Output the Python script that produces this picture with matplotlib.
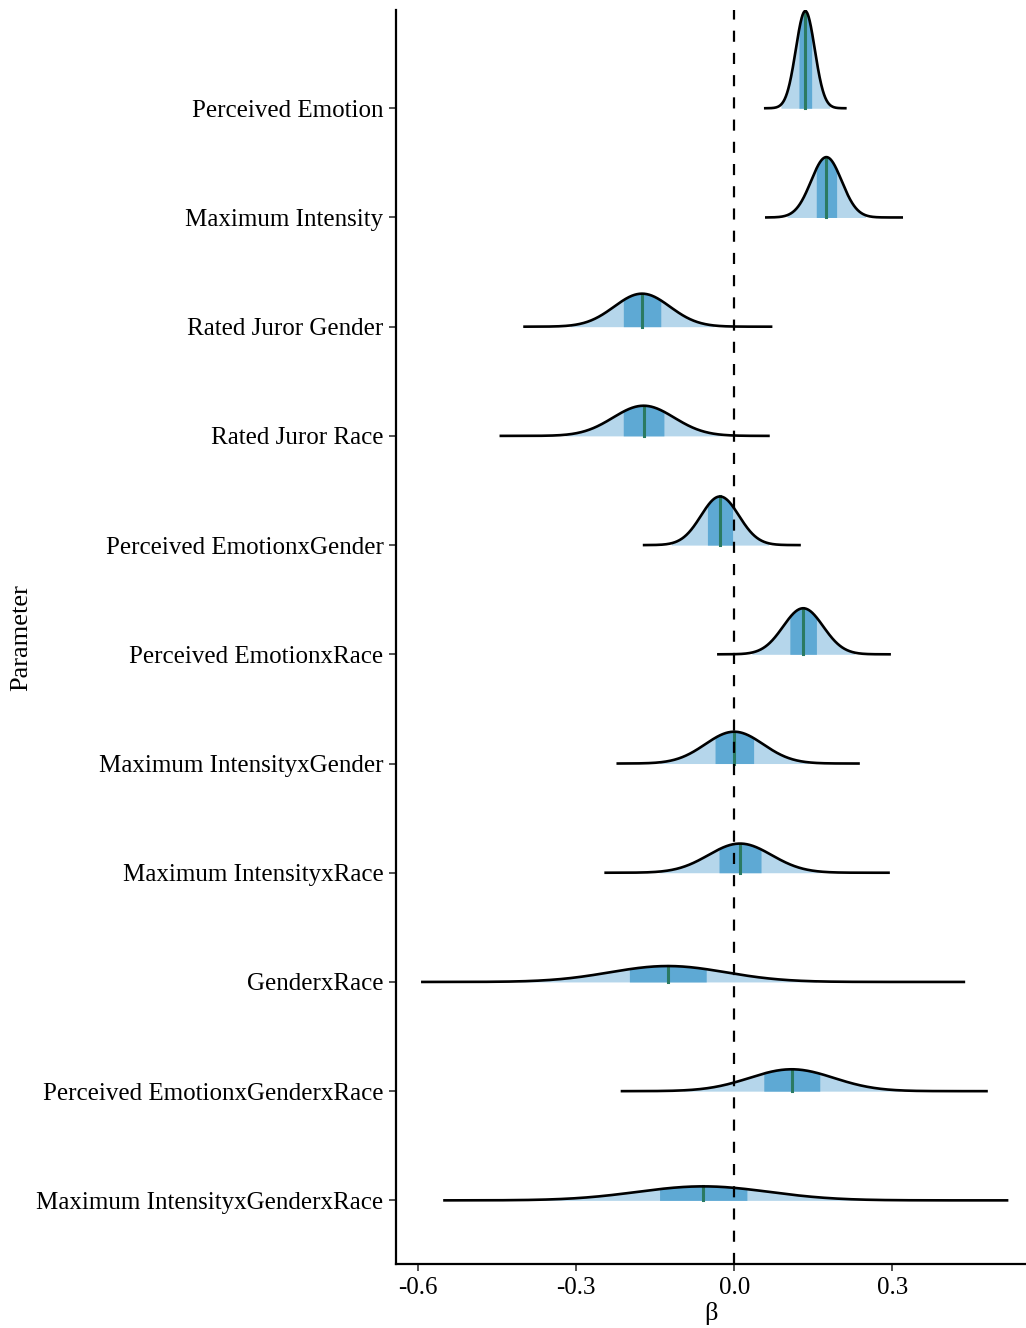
import numpy as np
import matplotlib.pyplot as plt

plt.rcParams['font.family'] = ['Liberation Serif', 'DejaVu Serif']

# posterior summaries (median, sd, sample min / max)
params = ["Perceived Emotion", "Maximum Intensity", "Rated Juror Gender",
          "Rated Juror Race", "Perceived EmotionxGender", "Perceived EmotionxRace",
          "Maximum IntensityxGender", "Maximum IntensityxRace", "GenderxRace",
          "Perceived EmotionxGenderxRace", "Maximum IntensityxGenderxRace"]
medians = [0.135, 0.175, -0.175, -0.172, -0.027, 0.131, 0.0, 0.011, -0.126, 0.109, -0.059]
sds = [0.018, 0.029, 0.053, 0.058, 0.036, 0.038, 0.055, 0.060, 0.110, 0.080, 0.125]
lows = [0.059, 0.061, -0.398, -0.443, -0.171, -0.030, -0.221, -0.244, -0.592, -0.213, -0.550]
highs = [0.211, 0.318, 0.070, 0.065, 0.124, 0.295, 0.236, 0.293, 0.436, 0.479, 0.518]

light = '#b5d6eb'
dark = '#5ea9d4'
med_col = '#2b7a62'

fig = plt.figure(figsize=(10.26, 13.28), dpi=100)
ax = fig.add_axes([0.386, 0.048, 0.614, 0.9445])

def pdf(x, m, s):
    return np.exp(-0.5 * ((x - m) / s) ** 2) / (s * np.sqrt(2 * np.pi))

n = len(params)
scale = 0.89 / pdf(0, 0, min(sds))

for i, name in enumerate(params):
    y0 = n - i
    m, s = medians[i], sds[i]
    x = np.linspace(lows[i], highs[i], 600)
    y = y0 + pdf(x, m, s) * scale
    outer = (x >= m - 2.576 * s) & (x <= m + 2.576 * s)
    inner = (x >= m - 0.674 * s) & (x <= m + 0.674 * s)
    ax.fill_between(x, y0, y, where=outer, color=light, lw=0, zorder=1)
    ax.fill_between(x, y0, y, where=inner, color=dark, lw=0, zorder=2)
    ax.plot([m, m], [y0, y0 + pdf(m, m, s) * scale], color=med_col, lw=2.2, zorder=3)
    ax.plot(x, y, color='black', lw=1.9, zorder=5)

ax.axvline(0, color='black', lw=1.6, ls=(0, (5, 5)), zorder=4)

ax.set_yticks(np.arange(n, 0, -1))
ax.set_yticklabels(params, fontsize=18)
ax.set_xticks([-0.6, -0.3, 0.0, 0.3])
ax.set_xticklabels(['-0.6', '-0.3', '0.0', '0.3'], fontsize=18)
ax.set_xlim(-0.642, 0.554)
ax.set_ylim(0.415, 11.9)
ax.tick_params(length=5, width=1.2, color='#333333', pad=4)

for side in ['top', 'right']:
    ax.spines[side].set_visible(False)
for side in ['left', 'bottom']:
    ax.spines[side].set_linewidth(1.6)

ax.set_xlabel('β', fontsize=19, labelpad=2)
ax.set_ylabel('Parameter', fontsize=19)
ax.yaxis.set_label_coords(-0.578, 0.5)

plt.savefig('out.png')
